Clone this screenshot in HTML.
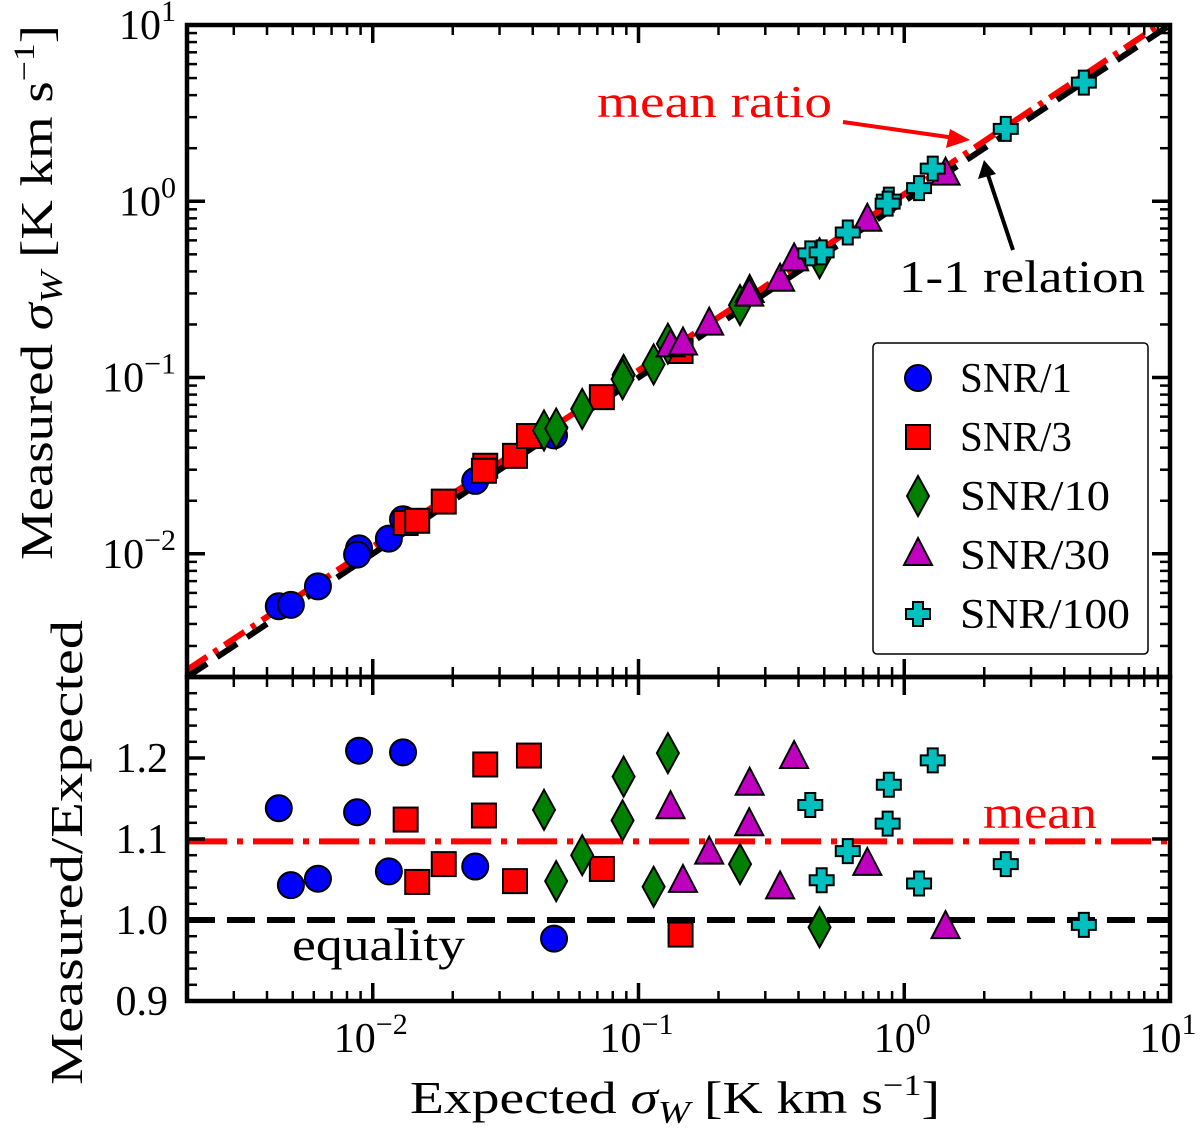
<!DOCTYPE html>
<html><head><meta charset="utf-8"><style>
html,body{margin:0;padding:0;background:#fff}
svg{display:block;font-family:"Liberation Serif","DejaVu Serif",serif}
</style></head><body>
<svg id="chart" width="1200" height="1132" viewBox="0 0 1200 1132" xmlns="http://www.w3.org/2000/svg">
<defs>
<clipPath id="clipTop"><rect x="187" y="25" width="983" height="652"/></clipPath>
<clipPath id="clipBot"><rect x="187" y="677" width="983" height="324"/></clipPath>
</defs>
<g id="gTop" clip-path="url(#clipTop)"></g>
<g id="gBot" clip-path="url(#clipBot)"></g>
<g id="gAxes"></g>
<text x="410" y="1113" font-size="46" textLength="530" lengthAdjust="spacingAndGlyphs">Expected <tspan font-style="italic">σ</tspan><tspan font-style="italic" font-size="32" dy="10">W</tspan><tspan dy="-10"> [K km s</tspan><tspan font-size="30" dy="-18">−1</tspan><tspan dy="18">]</tspan></text>
<text transform="translate(52,560) rotate(-90)" font-size="46" textLength="535" lengthAdjust="spacingAndGlyphs">Measured <tspan font-style="italic">σ</tspan><tspan font-style="italic" font-size="32" dy="10">W</tspan><tspan dy="-10"> [K km s</tspan><tspan font-size="30" dy="-18">−1</tspan><tspan dy="18">]</tspan></text>
<text transform="translate(82,1085) rotate(-90)" font-size="46" textLength="465" lengthAdjust="spacingAndGlyphs">Measured/Expected</text>
<text x="597" y="117" font-size="46" fill="#ff0000" textLength="235" lengthAdjust="spacingAndGlyphs">mean ratio</text>
<line x1="843" y1="122" x2="955" y2="138" stroke="#ff0000" stroke-width="4"/>
<polygon points="970,140 950,129 946,148" fill="#ff0000"/>
<text x="899" y="292" font-size="46" textLength="246" lengthAdjust="spacingAndGlyphs">1-1 relation</text>
<line x1="1013" y1="250" x2="988" y2="175" stroke="#000" stroke-width="4"/>
<polygon points="984,160 978,179 996,174" fill="#000"/>
<text x="983" y="828" font-size="46" fill="#ff0000" textLength="114" lengthAdjust="spacingAndGlyphs">mean</text>
<text x="292" y="960" font-size="46" textLength="173" lengthAdjust="spacingAndGlyphs">equality</text>
<g id="legend"></g>
</svg>
<script>
// data (expected sigma, measured/expected ratio)
const blueX = [0.00443,0.00492,0.00622,0.00888,0.00873,0.0115,0.0130,0.0243,0.0481];
const blueR = [1.138,1.043,1.051,1.209,1.133,1.060,1.207,1.066,0.977];
const redX = [0.0133,0.0147,0.0185,0.0265,0.0262,0.0343,0.0387,0.0728,0.144];
const redR = [1.124,1.047,1.069,1.192,1.129,1.048,1.203,1.063,0.982];
const greenX = [0.0441,0.0490,0.0614,0.0879,0.0871,0.129,0.114,0.241,0.480];
const greenR = [1.136,1.048,1.080,1.177,1.123,1.206,1.041,1.069,0.991];
const magentaX = [0.132,0.147,0.1845,0.262,0.261,0.341,0.385,0.726,1.43];
const magentaR = [1.138,1.047,1.082,1.167,1.117,1.039,1.200,1.068,0.990];
const cyanX = [0.443,0.489,0.613,0.875,0.866,1.137,1.28,2.41,4.74];
const cyanR = [1.142,1.049,1.085,1.167,1.119,1.045,1.197,1.069,0.994];
const meanRatio = 1.097;
const legendLabels = ["SNR/1","SNR/3","SNR/10","SNR/30","SNR/100"];
const xTickVals = [-2,-1,0,1];
const yTickValsTop = [-2,-1,0,1];
const yTickValsBot = [0.9,1.0,1.1,1.2];

const NS="http://www.w3.org/2000/svg";
const L=187,R=1170,T=25,M=677,B=1001;
const LMIN=Math.log10(0.002),LMAX=1;
function sx(v){return L+(Math.log10(v)-LMIN)/(LMAX-LMIN)*(R-L);}
function syTop(v){return M-(Math.log10(v)-LMIN)/(LMAX-LMIN)*(M-T);}
function syBot(r){return B-(r-0.9)/0.4*(B-M);}
function mk(tag,attrs,parent){const e=document.createElementNS(NS,tag);for(const k in attrs)e.setAttribute(k,attrs[k]);parent.appendChild(e);return e;}
const gTop=document.getElementById('gTop'),gBot=document.getElementById('gBot'),gAx=document.getElementById('gAxes'),gLeg=document.getElementById('legend');

function marker(type,x,y,parent){
  let e;
  const st={stroke:'#000','stroke-width':2};
  if(type==='circle'){e=mk('circle',Object.assign({cx:x,cy:y,r:13,fill:'#0000ff'},st),parent);}
  else if(type==='square'){e=mk('rect',Object.assign({x:x-12,y:y-12,width:24,height:24,fill:'#ff0000'},st),parent);}
  else if(type==='diamond'){e=mk('polygon',Object.assign({points:`${x},${y-20} ${x+11},${y} ${x},${y+20} ${x-11},${y}`,fill:'#008000'},st),parent);}
  else if(type==='triangle'){e=mk('polygon',Object.assign({points:`${x},${y-17} ${x+14},${y+10} ${x-14},${y+10}`,fill:'#bf00bf'},st),parent);}
  else {const a=5,b=12;e=mk('polygon',Object.assign({points:`${x-a},${y-b} ${x+a},${y-b} ${x+a},${y-a} ${x+b},${y-a} ${x+b},${y+a} ${x+a},${y+a} ${x+a},${y+b} ${x-a},${y+b} ${x-a},${y+a} ${x-b},${y+a} ${x-b},${y-a} ${x-a},${y-a}`,fill:'#00bfbf'},st),parent);}
  return e;
}

let l1=mk('line',{x1:sx(0.002),y1:syTop(0.002*meanRatio),x2:sx(10),y2:syTop(10*meanRatio),stroke:'#ff0000','stroke-width':6,'stroke-dasharray':'24 8 5 8'},gTop);


let l2=mk('line',{x1:sx(0.002),y1:syTop(0.002),x2:sx(10),y2:syTop(10),stroke:'#000','stroke-width':6,'stroke-dasharray':'24 12'},gTop);


let l3=mk('line',{x1:L,y1:syBot(meanRatio),x2:R,y2:syBot(meanRatio),stroke:'#ff0000','stroke-width':6,'stroke-dasharray':'40 10 6 10'},gBot);


let l4=mk('line',{x1:L,y1:syBot(1),x2:R,y2:syBot(1),stroke:'#000','stroke-width':6,'stroke-dasharray':'28 12'},gBot);



const series=[['circle',blueX,blueR,'snr1'],['square',redX,redR,'snr3'],['diamond',greenX,greenR,'snr10'],['triangle',magentaX,magentaR,'snr30'],['plus',cyanX,cyanR,'snr100']];
series.forEach(s=>{
  s[1].forEach((xv,i)=>{
    const r=s[2][i];
    let a=marker(s[0],sx(xv),syTop(xv*r),gTop);
    
    
    let b=marker(s[0],sx(xv),syBot(r),gBot);
    
    
  });
});

let lb=mk('rect',{x:873,y:343,width:275,height:311,rx:4,fill:'#fff',stroke:'#000','stroke-width':1.5,'fill-opacity':0.85},gLeg);


const legLen=[112,112,150,150,170];
series.forEach((s,i)=>{
  const y=378+i*59;
  let m=marker(s[0],918,y,gLeg);
  
  
  let t=mk('text',{x:960,y:y+14,'font-size':42,textLength:legLen[i],lengthAdjust:'spacingAndGlyphs'},gLeg);
  t.textContent=legendLabels[i];
  
  
});

let f1=mk('rect',{x:L,y:T,width:R-L,height:M-T,fill:'none',stroke:'#000','stroke-width':4.5},gAx);


let f2=mk('rect',{x:L,y:M,width:R-L,height:B-M,fill:'none',stroke:'#000','stroke-width':4.5},gAx);


function tick(x1,y1,x2,y2,w){mk('line',{x1,y1,x2,y2,stroke:'#000','stroke-width':w},gAx);}
for(let d=-3;d<=1;d++){for(let k=1;k<10;k++){const v=k*Math.pow(10,d);if(v<0.002||v>10)continue;const x=sx(v);const maj=k===1;const len=maj?18:10,w=maj?3.5:2.5;
  [T,M].forEach(y=>{tick(x,y,x,y+len,w);});
  [M,B].forEach(y=>{tick(x,y,x,y-len,w);});
}}
for(let d=-3;d<=1;d++){for(let k=1;k<10;k++){const v=k*Math.pow(10,d);if(v<0.002||v>10)continue;const y=syTop(v);const maj=k===1;const len=maj?18:10,w=maj?3.5:2.5;
  tick(L,y,L+len,y,w);tick(R,y,R-len,y,w);}}
for(let i=0;i<=20;i++){const r=0.9+i*0.02;const y=syBot(r);const maj=(i%5===0);const len=maj?18:10,w=maj?3.5:2.5;tick(L,y,L+len,y,w);tick(R,y,R-len,y,w);}
xTickVals.forEach(e=>{const t=mk('text',{x:sx(Math.pow(10,e))-2,y:1052,'font-size':42,'text-anchor':'middle'},gAx);t.innerHTML='10<tspan font-size="30" dy="-18">'+(e<0?'−'+(-e):e)+'</tspan>';
  
  });
yTickValsTop.forEach(e=>{const t=mk('text',{x:176,y:syTop(Math.pow(10,e))+14,'font-size':42,'text-anchor':'end'},gAx);t.innerHTML='10<tspan font-size="30" dy="-18">'+(e<0?'−'+(-e):e)+'</tspan>';
  
  });
yTickValsBot.forEach(v=>{const t=mk('text',{x:168,y:syBot(v)+14,'font-size':42,'text-anchor':'end'},gAx);t.textContent=v.toFixed(1);
  
  });
</script>
</body></html>
